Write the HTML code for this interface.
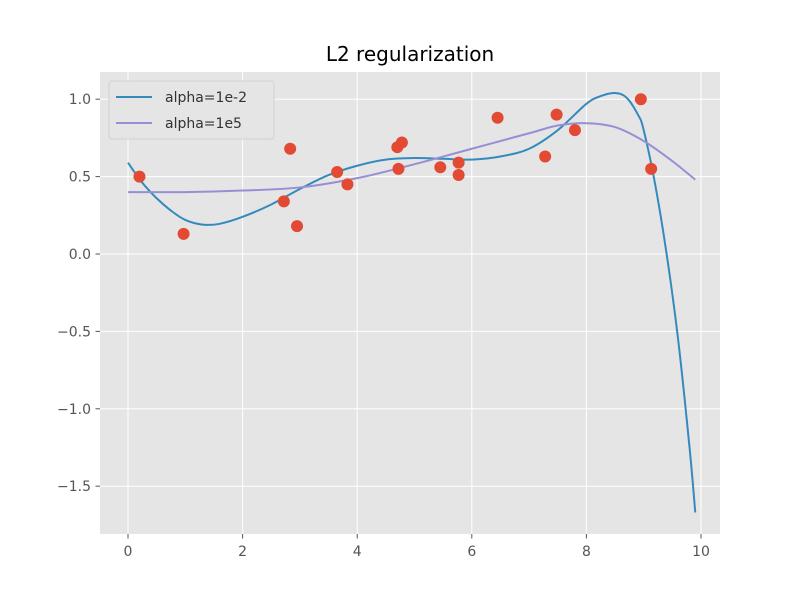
<!DOCTYPE html>
<html><head><meta charset="utf-8"><style>body{margin:0;background:#fff}svg{display:block;font-family:"DejaVu Sans","Liberation Sans",sans-serif}</style></head>
<body>
<svg id="chart" width="800" height="600" viewBox="0 0 800 600">
<rect x="0" y="0" width="800" height="600" fill="#fff"/>
<rect x="100" y="72" width="620" height="462" fill="#E5E5E5"/>
<g id="grid"></g><g id="ticks"></g><g id="series"></g>
<text x="410" y="61" text-anchor="middle" font-size="20" fill="#000">L2 regularization</text>
<g>
<rect x="109" y="81" width="165" height="58" rx="3" fill="#E5E5E5" stroke="#ccc" stroke-opacity="0.8"/>
<line x1="116" y1="97" x2="152" y2="97" stroke="#348ABD" stroke-width="2"/>
<text x="165" y="102" font-size="14" fill="#333">alpha=1e-2</text>
<line x1="116" y1="123" x2="152" y2="123" stroke="#988ED5" stroke-width="2"/>
<text x="165" y="128" font-size="14" fill="#333">alpha=1e5</text>
</g>
</svg>
<script>
const xTicks=[0,2,4,6,8,10];
const yTicks=[1.0,0.5,0.0,-0.5,-1.0,-1.5];
const pointsX=[0.2,0.97,2.72,2.83,2.95,3.65,3.83,4.7,4.72,4.78,5.45,5.77,5.77,6.45,7.28,7.48,7.8,8.95,9.13];
const pointsY=[0.5,0.13,0.34,0.68,0.18,0.53,0.45,0.69,0.55,0.72,0.56,0.59,0.51,0.88,0.63,0.9,0.8,1.0,0.55];
const blueX=[0,0.25,0.5,0.75,1,1.3,1.6,2,2.5,3,3.5,4,4.5,5,5.5,6,6.5,7,7.5,8,8.25,8.5,8.7,8.9,9.0,9.2,9.4,9.6,9.8,9.9];
const blueY=[0.59,0.46,0.36,0.28,0.22,0.19,0.195,0.24,0.32,0.42,0.51,0.57,0.61,0.62,0.615,0.61,0.63,0.68,0.8,0.97,1.02,1.04,1.01,0.9,0.8,0.45,0.0,-0.55,-1.25,-1.67];
const purpleX=[0,1,2,3,4,5,6,7,7.5,8,8.5,9,9.5,9.9];
const purpleY=[0.40,0.40,0.41,0.43,0.49,0.58,0.68,0.78,0.83,0.845,0.82,0.73,0.6,0.48];
const sx=v=>128+v*57.3;
const sy=v=>254-v*154.8;
const NS='http://www.w3.org/2000/svg';
function mk(tag,attrs,parent){const e=document.createElementNS(NS,tag);for(const k in attrs)e.setAttribute(k,attrs[k]);document.getElementById(parent).appendChild(e);return e;}
xTicks.forEach(t=>{
 const g=mk('line',{x1:sx(t),x2:sx(t),y1:72,y2:534,stroke:'#fff','stroke-width':1},'grid');
 
 
 const tk=mk('line',{x1:sx(t),x2:sx(t),y1:534,y2:538.5,stroke:'#555'},'ticks');
 
 
 const l=mk('text',{x:sx(t),y:556,'text-anchor':'middle','font-size':14,fill:'#555'},'ticks');
 l.textContent=String(t);
 
 
});
yTicks.forEach(t=>{
 const g=mk('line',{x1:100,x2:720,y1:sy(t),y2:sy(t),stroke:'#fff','stroke-width':1},'grid');
 
 
 const tk=mk('line',{x1:95.5,x2:100,y1:sy(t),y2:sy(t),stroke:'#555'},'ticks');
 
 
 const l=mk('text',{x:91,y:sy(t)+5,'text-anchor':'end','font-size':14,fill:'#555'},'ticks');
 l.textContent=(t<0?'\u2212':'')+Math.abs(t).toFixed(1);
 
 
});
function path(xs,ys){
 const p=xs.map((x,i)=>[sx(x),sy(ys[i])]);
 let d='M'+p[0][0]+','+p[0][1];
 for(let i=0;i<p.length-1;i++){
  const p0=p[i-1]||p[i],p1=p[i],p2=p[i+1],p3=p[i+2]||p2;
  d+=' C'+(p1[0]+(p2[0]-p0[0])/6)+','+(p1[1]+(p2[1]-p0[1])/6)+' '+(p2[0]-(p3[0]-p1[0])/6)+','+(p2[1]-(p3[1]-p1[1])/6)+' '+p2[0]+','+p2[1];
 }
 return d;
}
const b=mk('path',{d:path(blueX,blueY),fill:'none',stroke:'#348ABD','stroke-width':2},'series');


const pu=mk('path',{d:path(purpleX,purpleY),fill:'none',stroke:'#988ED5','stroke-width':2},'series');


pointsX.forEach((x,i)=>{
 const c=mk('circle',{cx:sx(x),cy:sy(pointsY[i]),r:6,fill:'#E24A33'},'series');
 
 
});
</script>
</body></html>
